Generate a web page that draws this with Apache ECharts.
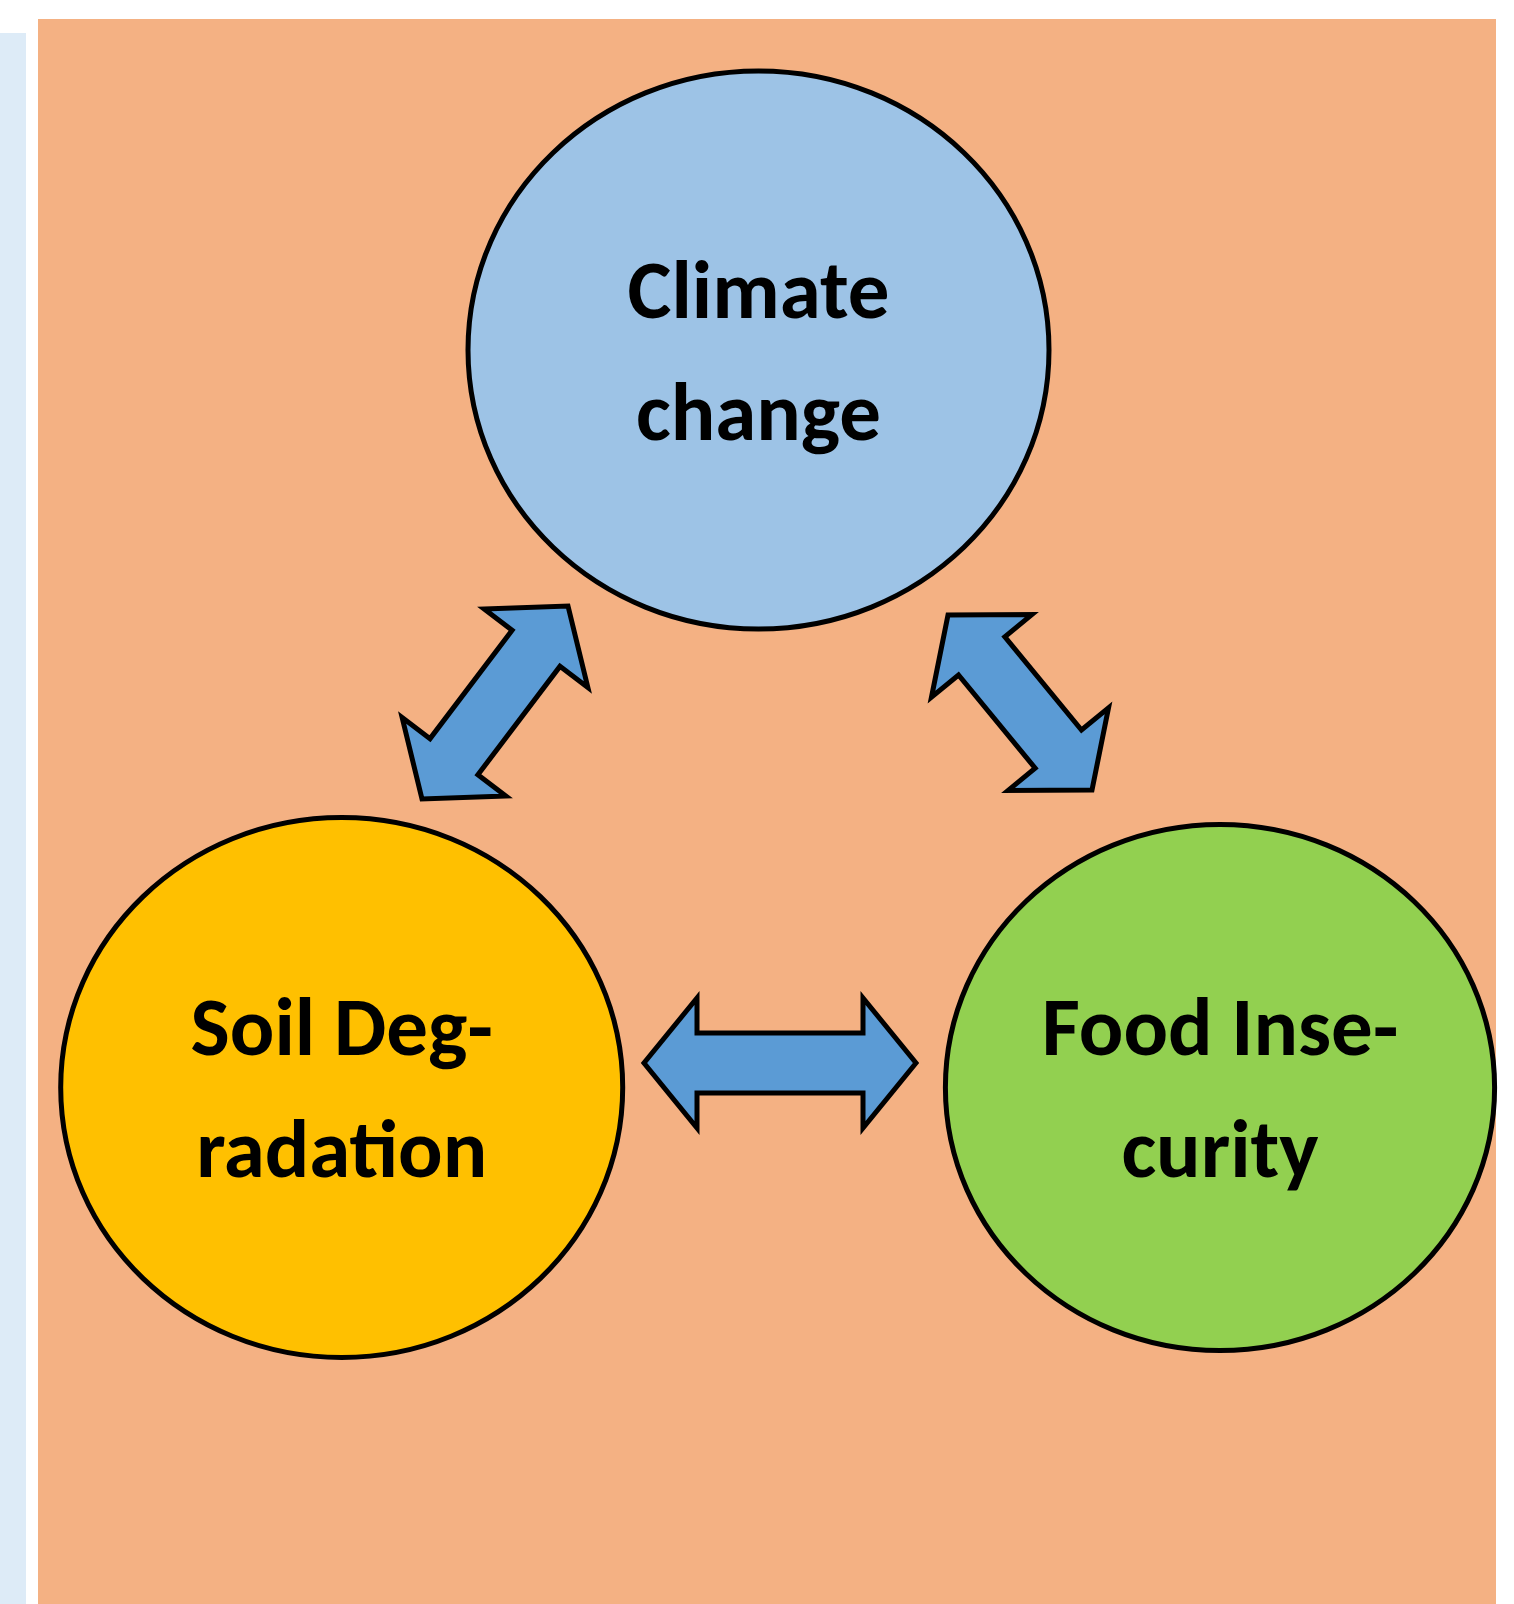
<!DOCTYPE html>
<html>
<head>
<meta charset="utf-8">
<script src="https://cdn.jsdelivr.net/npm/echarts@6/dist/echarts.min.js"></script>
<style>
  html, body { margin: 0; padding: 0; background: #fff; }
  #main { width: 1514px; height: 1604px; }
</style>
</head>
<body>
<div id="main"></div>
<script>
// nodes of the cycle diagram
let nodeNames = ['Climate change', 'Soil Degradation', 'Food Insecurity']
let nodeLines = [['Climate', 'change'], ['Soil Deg-', 'radation'], ['Food Inse-', 'curity']]
let nodeX = [758.5, 341.7, 1220]
let nodeY = [350, 1087.5, 1087.5]
let nodeRx = [290.5, 281, 274.6]
let nodeRy = [279, 270, 263]
let nodeColors = ['#9DC3E6', '#FFC000', '#92D050']

// double arrows between the nodes (tip to tip)
let arrowFrom = [[422, 799], [948, 615], [644, 1063]]
let arrowTo = [[568, 606], [1092, 790], [916, 1063]]

let chart = echarts.init(document.getElementById('main'))

let headLen = 53   // length of arrow head
let headHalf = 65  // half width of head
let shaftHalf = 30 // half width of shaft
let labelFont = 'bold 83px Carlito, Lato, sans-serif'

function arrowPoints(p0, p1) {
  let dx = p1[0] - p0[0]
  let dy = p1[1] - p0[1]
  let len = Math.sqrt(dx * dx + dy * dy)
  let d = [dx / len, dy / len]
  let n = [-d[1], d[0]]
  let at = (p, l, w) => [p[0] + d[0] * l + n[0] * w, p[1] + d[1] * l + n[1] * w]
  return [
    p1,
    at(p1, -headLen, headHalf),
    at(p1, -headLen, shaftHalf),
    at(p0, headLen, shaftHalf),
    at(p0, headLen, headHalf),
    p0,
    at(p0, headLen, -headHalf),
    at(p0, headLen, -shaftHalf),
    at(p1, -headLen, -shaftHalf),
    at(p1, -headLen, -headHalf)
  ]
}

let option = {
  animation: false,
  grid: { left: 0, right: 0, top: 0, bottom: 0 },
  xAxis: { type: 'value', min: 0, max: 1514, show: false },
  yAxis: { type: 'value', min: 0, max: 1604, inverse: true, show: false },
  graphic: [
    { type: 'rect', z: -10, shape: { x: 0, y: 33, width: 26, height: 1571 }, style: { fill: '#DDEBF7' } },
    { type: 'rect', z: -10, shape: { x: 38, y: 19, width: 1458, height: 1585 }, style: { fill: '#F4B183' } }
  ],
  series: [
    {
      type: 'custom',
      name: 'nodes',
      coordinateSystem: 'cartesian2d',
      data: nodeNames.map((name, i) => ({ name, value: [nodeX[i], nodeY[i], nodeRx[i], nodeRy[i]] })),
      renderItem: function (params, api) {
        let i = params.dataIndex
        let c = api.coord([api.value(0), api.value(1)])
        let s = api.size([api.value(2), api.value(3)])
        let lines = nodeLines[i]
        return {
          type: 'group',
          children: [
            {
              type: 'ellipse',
              shape: { cx: c[0], cy: c[1], rx: s[0], ry: s[1] },
              style: { fill: nodeColors[i], stroke: '#000', lineWidth: 5 }
            },
            {
              type: 'text',
              style: {
                text: lines[0], x: c[0], y: c[1] - 53,
                fill: '#000', font: labelFont,
                align: 'center', verticalAlign: 'middle'
              }
            },
            {
              type: 'text',
              style: {
                text: lines[1], x: c[0], y: c[1] + 69,
                fill: '#000', font: labelFont,
                align: 'center', verticalAlign: 'middle'
              }
            }
          ]
        }
      }
    },
    {
      type: 'custom',
      name: 'arrows',
      coordinateSystem: 'cartesian2d',
      data: arrowFrom.map((p, i) => [p[0], p[1], arrowTo[i][0], arrowTo[i][1]]),
      renderItem: function (params, api) {
        let p0 = api.coord([api.value(0), api.value(1)])
        let p1 = api.coord([api.value(2), api.value(3)])
        return {
          type: 'polygon',
          shape: { points: arrowPoints(p0, p1) },
          style: { fill: '#5B9BD5', stroke: '#000', lineWidth: 5, lineJoin: 'miter' }
        }
      }
    }
  ]
}
chart.setOption(option)
</script>
</body>
</html>
